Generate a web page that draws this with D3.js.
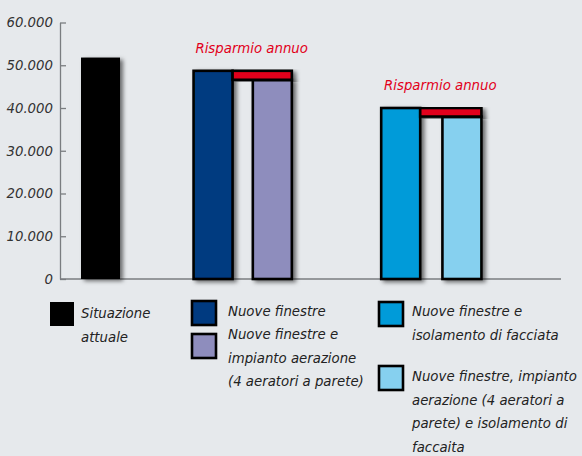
<!DOCTYPE html>
<html><head><meta charset="utf-8">
<script src="https://cdn.jsdelivr.net/npm/d3@7"></script>
<style>
html,body{margin:0;padding:0;background:#e6e9ec;}
svg{display:block;}
text{font-family:"DejaVu Sans",sans-serif;font-style:italic;}
</style></head>
<body>
<svg id="c" width="582" height="456"></svg>
<script>
// ---- data ----
const categories = ["Situazione attuale","Nuove finestre","Nuove finestre e impianto aerazione","Nuove finestre e isolamento di facciata","Nuove finestre, impianto aerazione e isolamento di facciata"];
const values = [51800, 48700, 46600, 40000, 38000];
const colors = ["#000000","#003a80","#8e8dbd","#009bd9","#86d0ef"];
const tickValues = [0,10000,20000,30000,40000,50000,60000];
const tickLabels = ["0","10.000","20.000","30.000","40.000","50.000","60.000"];
const savingsPairs = [[1,2],[3,4]];
const savingsLabel = "Risparmio annuo";
const legendLines = [
  ["Situazione","attuale"],
  ["Nuove finestre"],
  ["Nuove finestre e","impianto aerazione","(4 aeratori a parete)"],
  ["Nuove finestre e","isolamento di facciata"],
  ["Nuove finestre, impianto","aerazione (4 aeratori a","parete) e isolamento di","faccaita"]
];

// ---- layout ----
const FS = 13.3;
const svg = d3.select("#c");
const y = d3.scaleLinear().domain([0,60000]).range([279,22.5]);
const slots = [0, 2.85, 4.35, 7.6, 9.15];
const x = d3.scaleLinear().domain([0,10]).range([81,476]);
const bw = 39;

const defs = svg.append("defs");
const f = defs.append("filter").attr("id","sh").attr("x","-30%").attr("y","-10%").attr("width","160%").attr("height","130%");
f.append("feDropShadow").attr("dx",3).attr("dy",2).attr("stdDeviation",2.2).attr("flood-color","#000").attr("flood-opacity",0.55);

// axis
const ax = svg.append("g").attr("transform","translate(60,0)")
  .call(d3.axisLeft(y).tickValues(tickValues).tickSize(-6).tickSizeOuter(0).tickPadding(7)
    .tickFormat((d,i)=>tickLabels[i]));
ax.select(".domain").attr("stroke","#7a7d80").attr("stroke-width",1.3);
ax.selectAll(".tick line").attr("stroke","#7a7d80").attr("stroke-width",1.3);
ax.selectAll(".tick text").attr("font-size",FS).attr("fill","#333").attr("font-family","DejaVu Sans").attr("font-style","italic");
svg.append("line").attr("x1",60).attr("x2",561).attr("y1",y(0)).attr("y2",y(0)).attr("stroke","#7a7d80").attr("stroke-width",1.3);

// bars
svg.selectAll("rect.bar").data(values).join("rect").attr("class","bar")
  .attr("x",(d,i)=>x(slots[i])).attr("width",bw)
  .attr("y",d=>y(d)).attr("height",d=>y(0)-y(d))
  .attr("fill",(d,i)=>colors[i])
  .attr("stroke","#000").attr("stroke-width",(d,i)=>i===0?0:2.6)
  .attr("filter","url(#sh)");

// savings
savingsPairs.forEach(([a,b])=>{
  const x0 = x(slots[a])+bw, x1 = x(slots[b])+bw;
  svg.append("rect").attr("x",x0).attr("width",x1-x0)
    .attr("y",y(values[a])).attr("height",y(values[b])-y(values[a]))
    .attr("fill","#e2001a").attr("stroke","#000").attr("stroke-width",2.6).attr("filter","url(#sh)");
  svg.append("text").attr("x",(x(slots[a])+x1)/2+9).attr("y",y(values[a])-18)
    .attr("text-anchor","middle").attr("fill","#e2001a").attr("font-size",FS).text(savingsLabel);
});

// legend
const legPos = [[50,302],[192,301],[192,334],[379,302],[379,366]];
const textPos = [[81,318],[228,316],[228,339],[412,316],[412,381]];
legendLines.forEach((lines,i)=>{
  svg.append("rect").attr("x",legPos[i][0]).attr("y",legPos[i][1]).attr("width",24).attr("height",24)
    .attr("fill",colors[i]).attr("stroke","#000").attr("stroke-width",i===0?0:2.6);
  const t = svg.append("text").attr("x",textPos[i][0]).attr("y",textPos[i][1]).attr("font-size",FS).attr("fill","#222");
  lines.forEach((l,j)=>t.append("tspan").attr("x",textPos[i][0]).attr("dy",j===0?0:23.5).text(l));
});
</script>
</body></html>
